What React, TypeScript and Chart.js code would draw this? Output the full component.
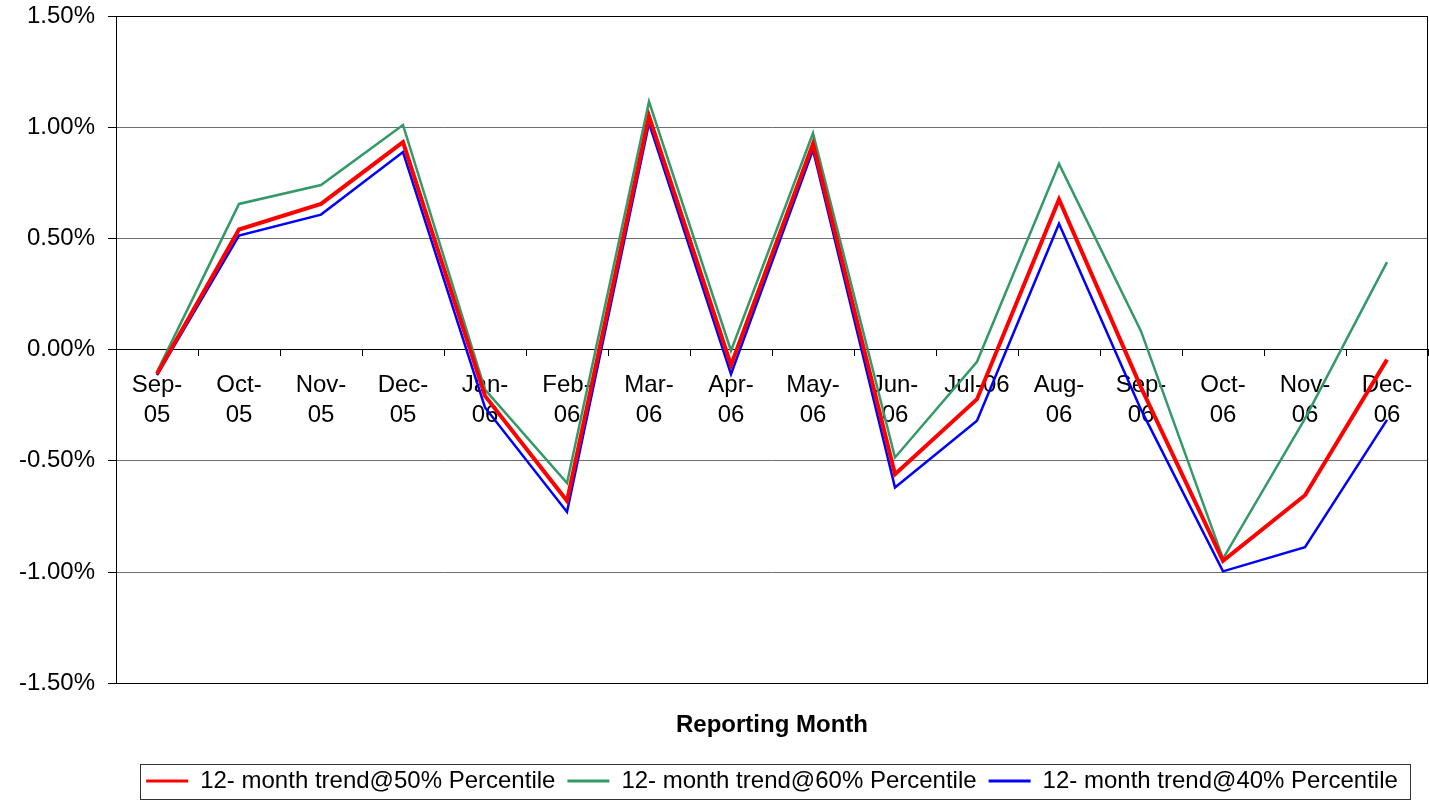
import React, { useEffect, useRef } from "react";
import { Chart, registerables } from "chart.js";

Chart.register(...registerables);

const months = [
  ["Sep-", "05"], ["Oct-", "05"], ["Nov-", "05"], ["Dec-", "05"],
  ["Jan-", "06"], ["Feb-", "06"], ["Mar-", "06"], ["Apr-", "06"],
  ["May-", "06"], ["Jun-", "06"], ["Jul-06"], ["Aug-", "06"],
  ["Sep-", "06"], ["Oct-", "06"], ["Nov-", "06"], ["Dec-", "06"],
];

const trend50 = [-0.11, 0.54, 0.655, 0.933, -0.208, -0.68, 1.05, -0.07, 0.925, -0.56, -0.223, 0.675, -0.17, -0.95, -0.655, -0.045];
const trend60 = [-0.1, 0.655, 0.74, 1.01, -0.18, -0.6, 1.115, -0.005, 0.973, -0.485, -0.055, 0.835, 0.083, -0.94, -0.31, 0.393];
const trend40 = [-0.115, 0.513, 0.607, 0.888, -0.26, -0.73, 1.018, -0.11, 0.898, -0.62, -0.32, 0.566, -0.27, -0.997, -0.888, -0.316];

const seriesNames = [
  "12- month trend@50% Percentile",
  "12- month trend@60% Percentile",
  "12- month trend@40% Percentile",
];

const yTicks = { min: -1.5, max: 1.5, step: 0.5 };

const FONT = "'Liberation Sans', Arial, sans-serif";

const framePlugin = {
  id: "frame",
  beforeDatasetsDraw(chart: any) {
    const { ctx, chartArea } = chart;
    ctx.save();
    ctx.strokeStyle = "#000";
    ctx.lineWidth = 1;
    ctx.strokeRect(
      Math.round(chartArea.left) + 0.5,
      Math.round(chartArea.top) + 0.5,
      Math.round(chartArea.right - chartArea.left) - 1,
      Math.round(chartArea.bottom - chartArea.top)
    );
    ctx.restore();
  },
  afterDraw(chart: any) {
    const lg = chart.legend;
    if (!lg || !lg.legendHitBoxes || !lg.legendHitBoxes.length) return;
    const hb = lg.legendHitBoxes;
    const left = Math.min(...hb.map((h: any) => h.left)) - 6;
    const right = Math.max(...hb.map((h: any) => h.left + h.width)) + 12;
    const top = lg.top + 7;
    const bottom = 799;
    const { ctx } = chart;
    ctx.save();
    ctx.strokeStyle = "#333";
    ctx.lineWidth = 1;
    ctx.strokeRect(Math.round(left) + 0.5, Math.round(top) + 0.5, Math.round(right - left), Math.round(bottom - top));
    ctx.restore();
  },
};

export default function App() {
  const ref = useRef<HTMLCanvasElement>(null);

  useEffect(() => {
    if (!ref.current) return;
    const chart = new Chart(ref.current, {
      type: "line",
      data: {
        labels: months,
        datasets: [
          { label: seriesNames[0], data: trend50, borderColor: "#FF0000", backgroundColor: "#FF0000", borderWidth: 4, pointRadius: 0, tension: 0 },
          { label: seriesNames[1], data: trend60, borderColor: "#339966", backgroundColor: "#339966", borderWidth: 2.5, pointRadius: 0, tension: 0 },
          { label: seriesNames[2], data: trend40, borderColor: "#0000FF", backgroundColor: "#0000FF", borderWidth: 2.5, pointRadius: 0, tension: 0 },
        ],
      },
      options: {
        responsive: false,
        animation: false,
        font: { family: FONT },
        layout: { padding: { left: 0, top: 16, right: 1, bottom: 0 } },
        scales: {
          x: {
            type: "category",
            position: { y: 0 } as any,
            offset: true,
            grid: { display: true, drawOnChartArea: false, drawTicks: true, tickLength: 6, color: "#000", offset: true },
            border: { display: true, color: "#000", width: 1 },
            ticks: {
              autoSkip: false,
              maxRotation: 0,
              minRotation: 0,
              padding: 15,
              color: "#000",
              font: { family: FONT, size: 24, lineHeight: 1.25 },
            },
          },
          y: {
            min: yTicks.min,
            max: yTicks.max,
            ticks: {
              stepSize: yTicks.step,
              color: "#000",
              padding: 13,
              font: { family: FONT, size: 24 },
              callback: (v: any) => Number(v).toFixed(2) + "%",
            },
            grid: {
              color: (c: any) => (c.tick && Math.abs(c.tick.value) < 1e-9 ? "#000" : "#6e6e6e"),
              tickColor: "#000",
              tickLength: 8,
            },
            border: { display: true, color: "#000" },
            afterFit: (s: any) => {
              s.width = 116;
              s.paddingTop = 0;
              s.paddingBottom = 0;
            },
          },
        },
        plugins: {
          title: {
            display: true,
            text: "Reporting Month",
            position: "bottom",
            fullSize: false,
            weight: 500,
            color: "#000",
            font: { family: FONT, size: 24, weight: "bold" },
            padding: { top: 28, bottom: 17 },
          } as any,
          legend: {
            display: true,
            position: "bottom",
            fullSize: false,
            maxHeight: 44,
            weight: 1000,
            labels: {
              boxWidth: 42,
              boxHeight: 3,
              padding: 12,
              color: "#000",
              font: { family: FONT, size: 24 },
              generateLabels: (ch: any) =>
                (Chart.defaults.plugins.legend.labels.generateLabels as any)(ch).map((l: any) => ({
                  ...l,
                  lineWidth: 0,
                  fillStyle: l.strokeStyle,
                })),
            },
          } as any,
          tooltip: { enabled: false },
        },
      },
      plugins: [framePlugin],
    });
    return () => chart.destroy();
  }, []);

  return (
    <div style={{ position: "fixed", left: 0, top: 0, width: 1429, height: 801, background: "#fff" }}>
      <canvas ref={ref} width={1429} height={801} />
    </div>
  );
}
